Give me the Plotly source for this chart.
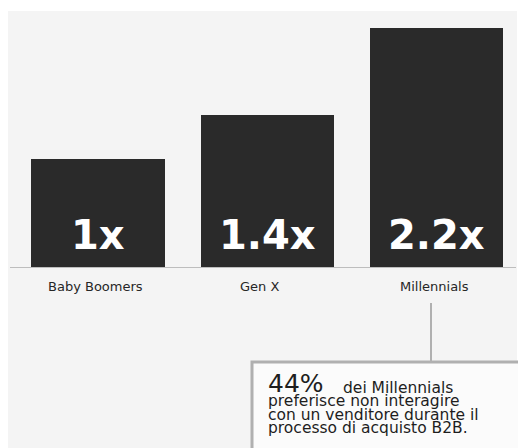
import plotly.graph_objects as go

# ---- data ----
categories = ["Baby Boomers", "Gen X", "Millennials"]
values = [1.0, 1.4, 2.2]
value_labels = ["1x", "1.4x", "2.2x"]
note_big = "44%"
note_lines = ["dei Millennials",
              "preferisce non interagire",
              "con un venditore durante il",
              "processo di acquisto B2B."]

# ---- layout geometry (pixels) ----
W, H = 518, 448
BASE_PX = 268          # baseline y pixel
PX_PER_UNIT_Y = 109.0
PX_PER_CAT = 169.25
FIRST_CENTER_PX = 98.0

def px(x):
    return x / W

def py(y):
    return 1 - y / H

x0 = -FIRST_CENTER_PX / PX_PER_CAT
x1 = x0 + W / PX_PER_CAT
ytop = BASE_PX / PX_PER_UNIT_Y

xs = list(range(len(categories)))

fig = go.Figure()
fig.add_trace(go.Bar(
    x=xs, y=values, width=0.786,
    marker=dict(color="#2a2a2a", line=dict(width=0)),
    hoverinfo="skip", showlegend=False,
))

annotations = []
# value labels inside bars
for xi, lab in zip(xs, value_labels):
    annotations.append(dict(
        x=xi, y=0, xref="x", yref="y", text=lab, showarrow=False,
        xanchor="center", yanchor="bottom", yshift=7.6,
        font=dict(family="DejaVu Sans", size=40, color="#ffffff", weight="bold"),
    ))
# category labels
label_shift = [-3, -8, -2]
for xi, lab, sh in zip(xs, categories, label_shift):
    annotations.append(dict(
        x=xi, y=0, xref="x", yref="y", text=lab, showarrow=False,
        xanchor="center", yanchor="top", yshift=-9.4, xshift=sh,
        font=dict(family="DejaVu Sans", size=13, color="#262626"),
    ))

# callout text
big_size = 25
small_size = 15.5
annotations.append(dict(
    x=px(266), y=py(393 + 0.236 * big_size + 1), xref="paper", yref="paper",
    text=note_big, showarrow=False, xanchor="left", yanchor="bottom",
    font=dict(family="DejaVu Sans", size=big_size, color="#1e1e1e"),
))
line_x = [341, 266, 266, 266]
line_base = [394, 407.5, 421, 434.5]
for lx, lb, txt in zip(line_x, line_base, note_lines):
    annotations.append(dict(
        x=px(lx), y=py(lb + 0.236 * small_size + 1), xref="paper", yref="paper",
        text=txt, showarrow=False, xanchor="left", yanchor="bottom",
        font=dict(family="DejaVu Sans", size=small_size, color="#1e1e1e"),
    ))

shapes = [
    # light grey panel
    dict(type="rect", xref="paper", yref="paper", x0=px(8), x1=px(517),
         y0=-0.01, y1=py(11), fillcolor="#f4f4f4", line=dict(width=0), layer="below"),
    # baseline
    dict(type="line", xref="paper", yref="y", x0=px(10), x1=px(516), y0=0, y1=0,
         line=dict(color="#bdbdbd", width=2), layer="above"),
    # connector
    dict(type="line", xref="paper", yref="paper", x0=px(431), x1=px(431),
         y0=py(303), y1=py(362), line=dict(color="#9a9a9a", width=1.5)),
    # callout box
    dict(type="rect", xref="paper", yref="paper", x0=px(252), x1=1.02,
         y0=-0.02, y1=py(362), fillcolor="#fbfbfb",
         line=dict(color="#b0b0b0", width=3)),
]

fig.update_layout(
    width=W, height=H,
    margin=dict(l=0, r=0, t=0, b=0),
    paper_bgcolor="#ffffff", plot_bgcolor="rgba(0,0,0,0)",
    xaxis=dict(range=[x0, x1], domain=[0, 1], visible=False, fixedrange=True),
    yaxis=dict(range=[0, ytop], domain=[(H - BASE_PX) / H, 1], visible=False, fixedrange=True),
    annotations=annotations,
    shapes=shapes,
    bargap=0,
)

fig.write_html("out.html", config={"displayModeBar": False})
